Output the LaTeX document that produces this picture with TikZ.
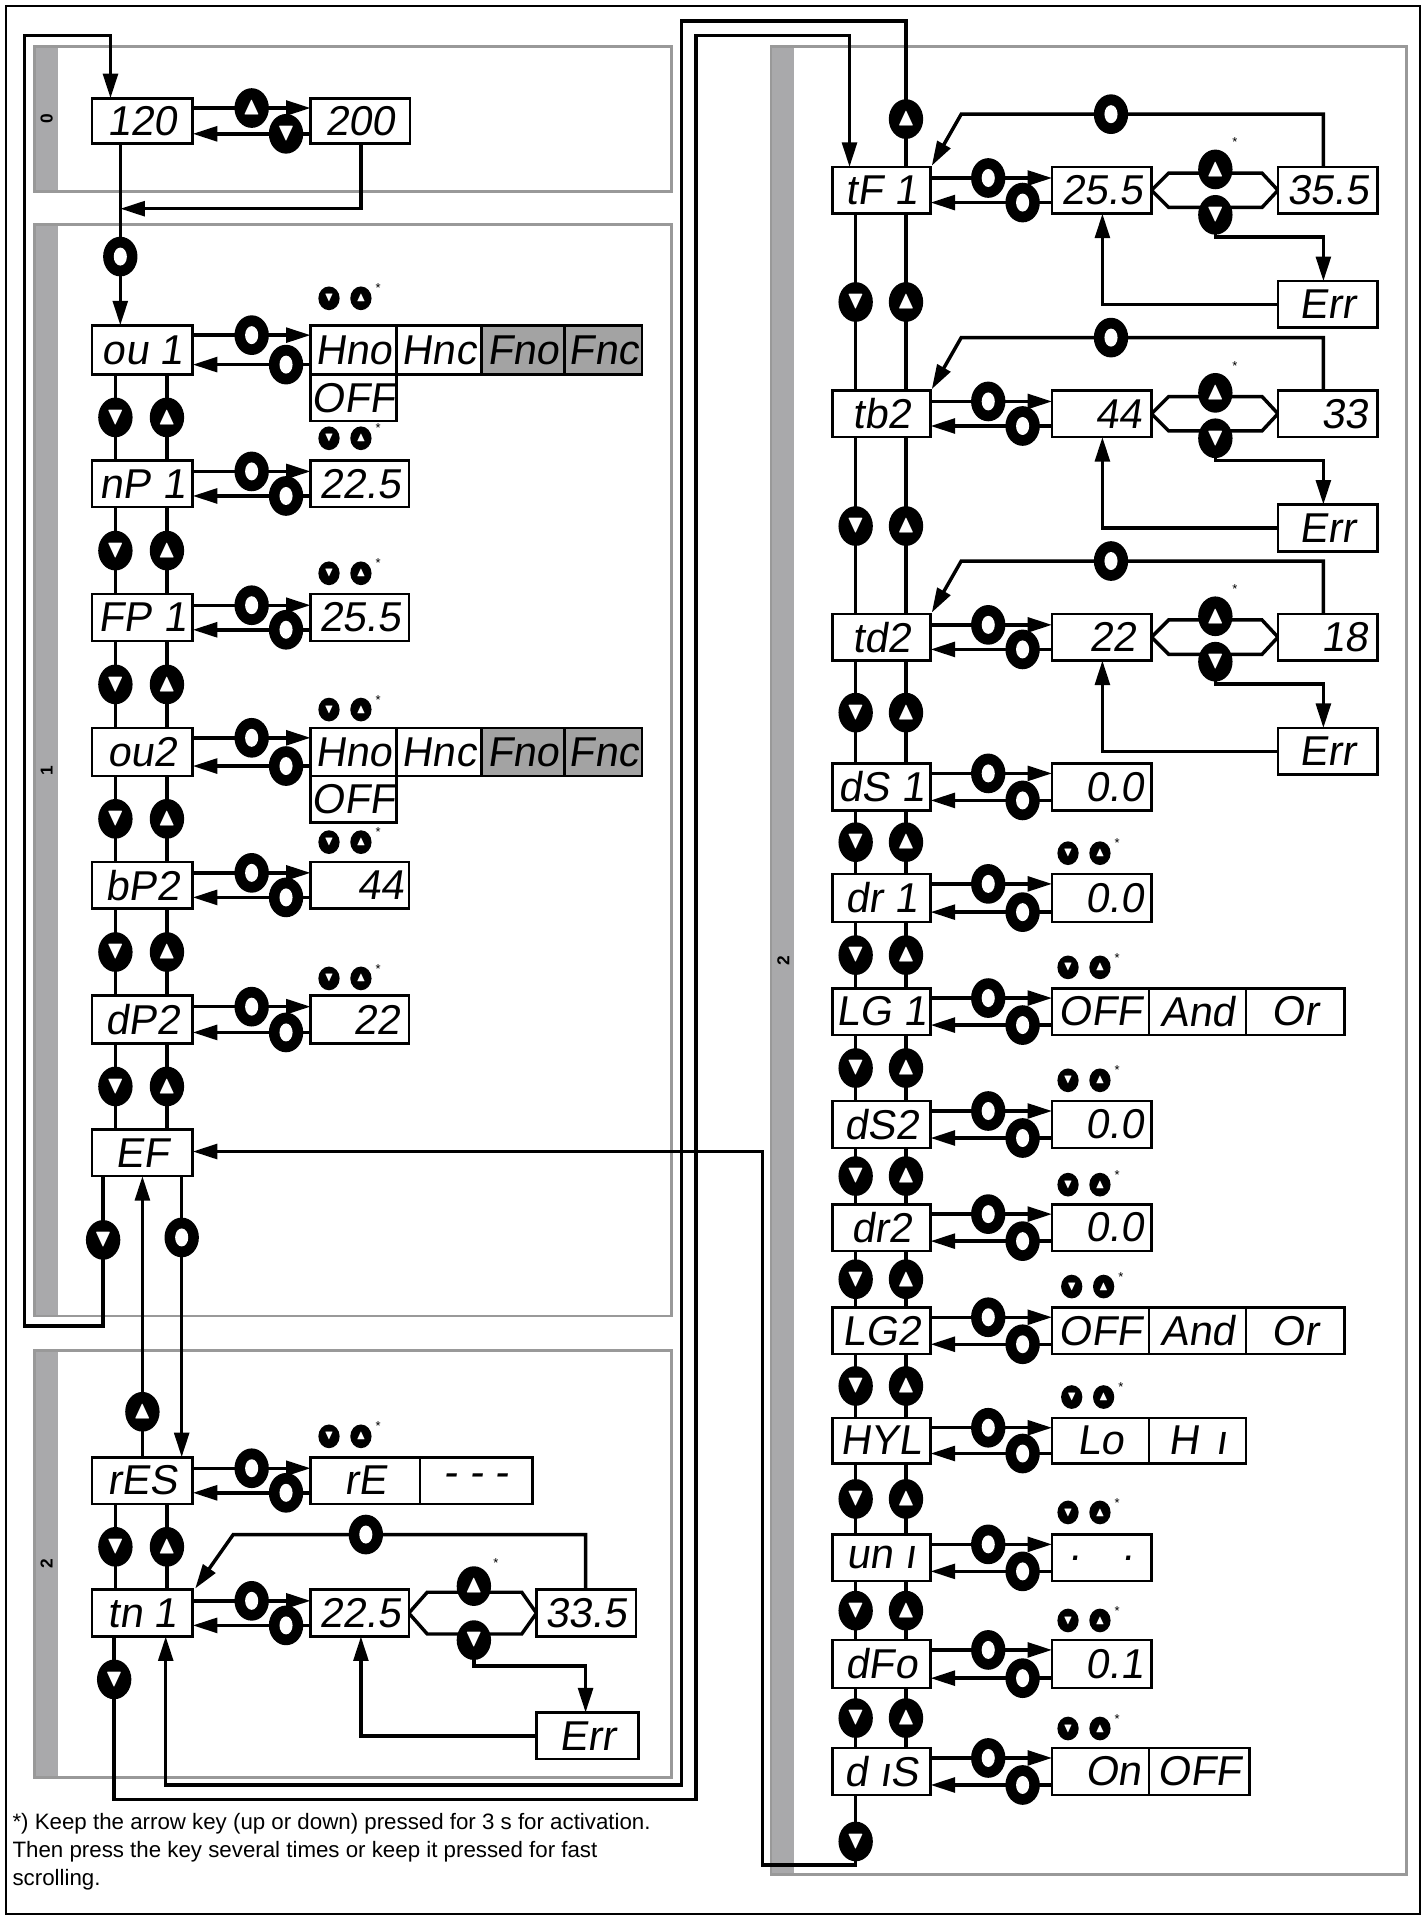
\documentclass[tikz,border=0pt]{standalone}
\usepackage{amssymb}
\usepackage{fontspec}
\setmainfont{Liberation Sans}
\newfontfamily\seg{Liberation Sans}[FakeSlant=0.15]
\usetikzlibrary{shapes.geometric,arrows.meta}
\definecolor{pan}{HTML}{999999}
\definecolor{bar}{HTML}{A9A9AB}
\definecolor{gfill}{HTML}{A3A3A3}
\newcommand\segf{\seg\fontsize{29}{29}\selectfont}
\tikzset{
 ln/.style={line width=2.4pt},
 arr/.style={ln,-{Triangle[length=0.6cm,width=0.36cm]}},
 disp/.style={draw,line width=1.8pt,inner sep=0,font=\segf},
 btn/.style={ellipse,fill=black,minimum width=0.84cm,minimum height=0.97cm,inner sep=0,text=white,font=\LARGE},
 ring/.style={btn,node contents={},path picture={\fill[white] (path picture bounding box.center) ellipse (0.16cm and 0.22cm);}},
 up/.style={btn,node contents={$\blacktriangle$}},
 dn/.style={btn,node contents={$\blacktriangledown$}},
 sbtn/.style={ellipse,fill=black,minimum width=0.52cm,minimum height=0.58cm,inner sep=0,text=white,font=\small},
 sup/.style={sbtn,node contents={$\blacktriangle$}},
 sdn/.style={sbtn,node contents={$\blacktriangledown$}},
 ast/.style={font=\small,inner sep=0},
 plab/.style={font=\bfseries\large,rotate=90}
}
\newcommand\dbx[7][white]{\pgfmathsetmacro\dbW{((#5)-(#3))*0.03}\pgfmathsetmacro\dbH{((#6)-(#4))*0.03}%
 \node[disp,fill=#1,minimum width=\dbW cm,minimum height=\dbH cm] (#2) at ({((#3)+(#5))/2},{((#4)+(#6))/2}) {#7};}
% xl xr yt yb c1 c2 s1 s2
\newcommand\hc[8]{\draw[arr] (#1,#3)--(#2,#3); \draw[arr] (#2,#4)--(#1,#4);
 \node at (#5,#3) [#7]; \node at (#6,#4) [#8];}
\newcommand\vc[4]{\draw[ln] (#3,#1)--(#3,#2); \draw[ln] (#4,#1)--(#4,#2);
 \node at (#3,{(#1+#2)/2}) [dn]; \node at (#4,{(#1+#2)/2}) [up];}
\newcommand\spair[2]{\node at (#1,#2) [sdn]; \node at ({#1+26},#2) [sup]; \node[ast] at ({#1+40},{#2-8}) {*};}
\newcommand\rsec[5]{%
 \draw[ln] (938,155+#1)--(952,141+#1)--(1028,141+#1)--(1041,155+#1)--(1028,169+#1)--(952,169+#1)--cycle;
 \draw[arr] (990,175+#1)--(990,193+#1)--(1078,193+#1)--(1078,229+#1);
 \draw[arr] (1041,248+#1)--(898,248+#1)--(898,174+#1);
 \draw[arr] (1078,136+#1)--(1078,93+#1)--(783,93+#1)--(759,135+#1);
 \node at (905,93+#1) [ring]; \node at (990,138+#1) [up]; \node at (990,175+#1) [dn];
 \node[ast] at (1006,116+#1) {*};
 \dbx{#2}{678}{136+#1}{758}{174+#1}{#3}
 \dbx{#2a}{857}{136+#1}{938}{174+#1}{#4}
 \dbx{#2b}{1041}{136+#1}{1122}{174+#1}{#5}
 \dbx{#2e}{1041}{229+#1}{1122}{267+#1}{Err}
 \hc{758}{857}{145+#1}{165+#1}{805}{833}{ring}{ring}}
\begin{document}
\begin{tikzpicture}[x=0.03cm,y=-0.03cm]
\useasboundingbox (0,0) rectangle (1162,1564);
\draw[line width=1.5pt] (5,5) rectangle (1157,1559);
% panels
\foreach \a/\b/\c/\d/\l in {28/38/547/156/0, 28/183/547/1072/1, 28/1100/547/1448/2, 628/38/1146/1527/2}{
 \fill[bar] (\a,\b) rectangle (\a+19,\d);
 \draw[pan,line width=2pt] (\a,\b) rectangle (\c,\d);
 \node[plab] at (\a+10,{(\b+\d)/2}) {\l};}
% long connectors
\draw[arr] (84,958)--(84,1080)--(20,1080)--(20,29)--(90,29)--(90,80);
\draw[arr] (93,1333)--(93,1466)--(567,1466)--(567,29)--(692,29)--(692,136);
\draw[arr] (738,136)--(738,17)--(555,17)--(555,1454)--(135,1454)--(135,1333);
\draw[arr] (697,1462)--(697,1519)--(621,1519)--(621,938)--(157,938);
\draw[arr] (98,117)--(98,265);
\draw[arr] (294,117)--(294,170)--(98,170);
\draw[arr] (116,1187)--(116,958);
\draw[arr] (148,958)--(148,1187);
\node at (98,209) [ring]; \node at (84,1010) [dn]; \node at (116,1150) [up];
\node at (148,1008) [ring]; \node at (93,1368) [dn]; \node at (738,97) [up];
\node at (697,1500) [dn];
% panel 0
\dbx{m120}{75}{80}{157}{117}{120}
\dbx{v200}{253}{80}{334}{117}{200}
\hc{157}{253}{88}{109}{205}{233}{up}{dn}
% panel 1
\vc{305}{375}{94}{136}\vc{413}{484}{94}{136}\vc{522}{593}{94}{136}
\vc{632}{702}{94}{136}\vc{740}{811}{94}{136}\vc{850}{920}{94}{136}
\dbx{ou1}{75}{265}{157}{305}{ou 1}
\dbx{ou1a}{253}{265}{323}{305}{Hno}\dbx{ou1b}{323}{265}{392}{305}{Hnc}
\dbx[gfill]{ou1c}{392}{265}{460}{305}{Fno}\dbx[gfill]{ou1d}{460}{265}{523}{305}{Fnc}
\dbx{ou1e}{253}{305}{323}{343}{OFF}
\hc{157}{253}{273}{297}{205}{233}{ring}{ring}\spair{268}{243}
\dbx{nP1}{75}{375}{157}{413}{nP 1}\dbx{nP1a}{253}{375}{333}{413}{22.5}
\hc{157}{253}{384}{404}{205}{233}{ring}{ring}\spair{268}{357}
\dbx{FP1}{75}{484}{157}{522}{FP 1}\dbx{FP1a}{253}{484}{333}{522}{25.5}
\hc{157}{253}{493}{513}{205}{233}{ring}{ring}\spair{268}{467}
\dbx{ou2}{75}{593}{157}{632}{ou2}
\dbx{ou2a}{253}{593}{323}{632}{Hno}\dbx{ou2b}{323}{593}{392}{632}{Hnc}
\dbx[gfill]{ou2c}{392}{593}{460}{632}{Fno}\dbx[gfill]{ou2d}{460}{593}{523}{632}{Fnc}
\dbx{ou2e}{253}{632}{323}{670}{OFF}
\hc{157}{253}{601}{624}{205}{233}{ring}{ring}\spair{268}{578}
\dbx{bP2}{75}{702}{157}{740}{bP2}\dbx{bP2a}{253}{702}{333}{740}{\hspace{1em}44}
\hc{157}{253}{711}{731}{205}{233}{ring}{ring}\spair{268}{686}
\dbx{dP2}{75}{811}{157}{850}{dP2}\dbx{dP2a}{253}{811}{333}{850}{\hspace{0.8em}22}
\hc{157}{253}{820}{841}{205}{233}{ring}{ring}\spair{268}{797}
\dbx{EF}{75}{920}{157}{958}{EF\hspace{1.2em}}
% lower left panel
\vc{1225}{1295}{94}{136}
\dbx{rES}{75}{1187}{157}{1225}{rES}
\dbx{rESa}{253}{1187}{342}{1225}{rE\hspace{1em}}\dbx{rESb}{342}{1187}{434}{1225}{- - -}
\hc{157}{253}{1196}{1216}{205}{233}{ring}{ring}\spair{268}{1170}
\draw[ln] (333,1314)--(348,1297)--(425,1297)--(437,1314)--(425,1331)--(348,1331)--cycle;
\draw[arr] (386,1336)--(386,1357)--(477,1357)--(477,1395);
\draw[arr] (437,1414)--(294,1414)--(294,1333);
\draw[arr] (477,1295)--(477,1250)--(190,1250)--(159,1294);
\node at (298,1250) [ring]; \node at (386,1292) [up]; \node at (386,1336) [dn];
\node[ast] at (404,1273) {*};
\dbx{tn1}{75}{1295}{157}{1333}{tn 1}
\dbx{tn1a}{253}{1295}{333}{1333}{22.5}\dbx{tn1b}{437}{1295}{518}{1333}{33.5}
\dbx{tn1e}{437}{1395}{520}{1433}{Err}
\hc{157}{253}{1304}{1324}{205}{233}{ring}{ring}
% right panel
\rsec{0}{tF1}{tF 1}{25.5}{35.5}
\rsec{182}{tb2}{tb2}{\hspace{0.8em}44}{\hspace{0.8em}33}
\rsec{364}{td2}{td2}{\hspace{0.5em}22}{\hspace{0.8em}18}
\vc{174}{318}{697}{738}\vc{357}{500}{697}{738}\vc{539}{622}{697}{738}
\vc{660}{712}{697}{738}\vc{751}{805}{697}{738}\vc{843}{897}{697}{738}
\vc{935}{981}{697}{738}\vc{1019}{1065}{697}{738}\vc{1103}{1155}{697}{738}
\vc{1192}{1250}{697}{738}\vc{1288}{1336}{697}{738}\vc{1375}{1424}{697}{738}
\dbx{dS1}{678}{622}{758}{660}{dS 1}\dbx{dS1a}{857}{622}{938}{660}{\hspace{0.6em}0.0}
\hc{758}{857}{630}{652}{805}{833}{ring}{ring}
\dbx{dr1}{678}{712}{758}{751}{dr 1}\dbx{dr1a}{857}{712}{938}{751}{\hspace{0.6em}0.0}
\hc{758}{857}{720}{743}{805}{833}{ring}{ring}\spair{870}{695}
\dbx{LG1}{678}{805}{758}{843}{LG 1}
\dbx{LG1a}{857}{805}{936}{843}{OFF}\dbx{LG1b}{936}{805}{1015}{843}{And}\dbx{LG1c}{1015}{805}{1095}{843}{Or\hspace{1em}}
\hc{758}{857}{813}{835}{805}{833}{ring}{ring}\spair{870}{788}
\dbx{dS2}{678}{897}{758}{935}{dS2}\dbx{dS2a}{857}{897}{938}{935}{\hspace{0.6em}0.0}
\hc{758}{857}{905}{927}{805}{833}{ring}{ring}\spair{870}{880}
\dbx{dr2}{678}{981}{758}{1019}{dr2}\dbx{dr2a}{857}{981}{938}{1019}{\hspace{0.6em}0.0}
\hc{758}{857}{989}{1011}{805}{833}{ring}{ring}\spair{870}{965}
\dbx{LG2}{678}{1065}{758}{1103}{LG2}
\dbx{LG2a}{857}{1065}{936}{1103}{OFF}\dbx{LG2b}{936}{1065}{1015}{1103}{And}\dbx{LG2c}{1015}{1065}{1095}{1103}{Or\hspace{1em}}
\hc{758}{857}{1073}{1095}{805}{833}{ring}{ring}\spair{873}{1048}
\dbx{HYL}{678}{1155}{758}{1192}{HYL}
\dbx{HYLa}{857}{1155}{936}{1192}{Lo\hspace{0.8em}}\dbx{HYLb}{936}{1155}{1015}{1192}{H\hspace{0.4em}ı\hspace{0.5em}}
\hc{758}{857}{1163}{1184}{805}{833}{ring}{ring}\spair{873}{1138}
\dbx{uni}{678}{1250}{758}{1288}{un ı}\dbx{unia}{857}{1250}{938}{1288}{.\hspace{1em}.}
\hc{758}{857}{1258}{1280}{805}{833}{ring}{ring}\spair{870}{1232}
\dbx{dFo}{678}{1336}{758}{1375}{dFo}\dbx{dFoa}{857}{1336}{938}{1375}{\hspace{0.6em}0.1}
\hc{758}{857}{1344}{1367}{805}{833}{ring}{ring}\spair{870}{1320}
\dbx{diS}{678}{1424}{758}{1462}{d ıS}
\dbx{diSa}{857}{1424}{936}{1462}{\hspace{0.6em}On}\dbx{diSb}{936}{1424}{1018}{1462}{OFF}
\hc{758}{857}{1432}{1454}{805}{833}{ring}{ring}\spair{870}{1408}
% footnote
\node[anchor=north west,align=left,inner sep=0,font=\fontsize{15.5}{19.5}\selectfont] (fn) at (10,1477)
 {*) Keep the arrow key (up or down) pressed for 3 s for activation.\\Then press the key several times or keep it pressed for fast\\scrolling.};
\end{tikzpicture}
\end{document}
